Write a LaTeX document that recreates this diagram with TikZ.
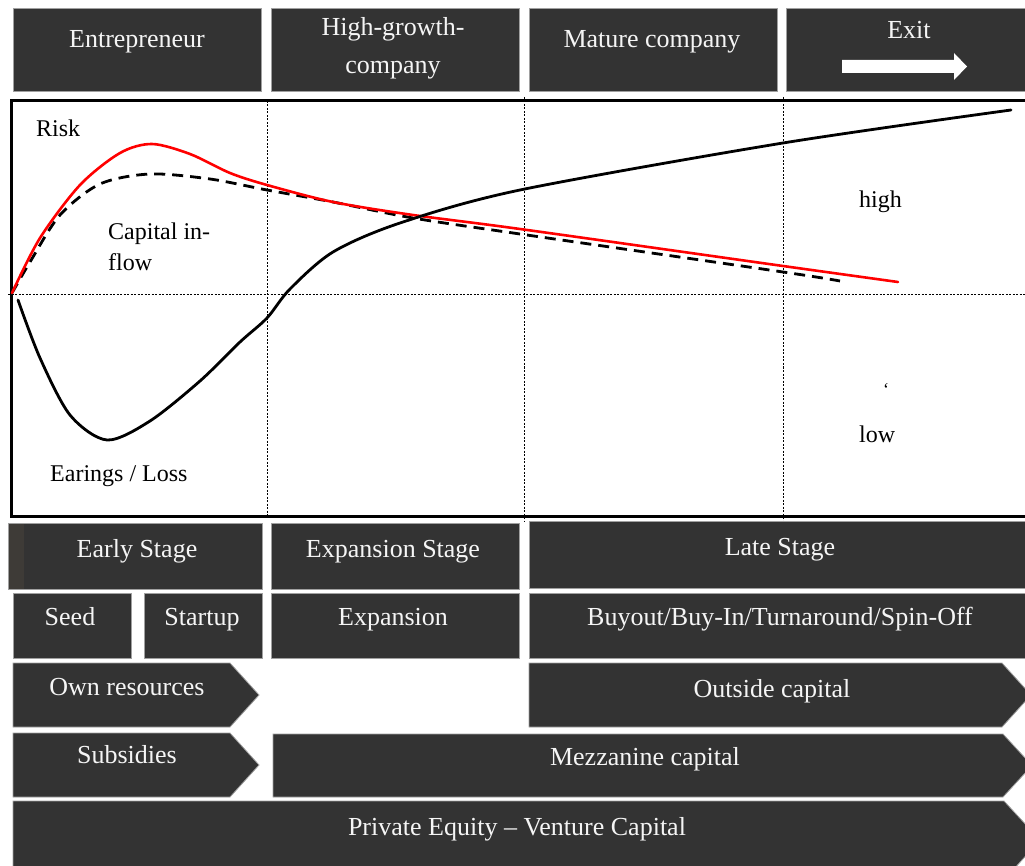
\documentclass[tikz,border=0pt]{standalone}
\usepackage{fontspec}
\setmainfont{Liberation Serif}
\definecolor{boxgray}{RGB}{51,51,51}
\definecolor{edgegray}{RGB}{160,160,160}
\definecolor{boxtext}{RGB}{245,245,245}
\definecolor{stripgray}{RGB}{62,59,55}
\definecolor{riskred}{RGB}{255,0,0}
\begin{document}
\begin{tikzpicture}[x=1pt,y=-1pt,
  box/.style={fill=boxgray,draw=edgegray,line width=0.8pt},
  lbl/.style={text=boxtext,font=\fontsize{26}{30}\selectfont,anchor=base,inner sep=0pt},
  chartlbl/.style={font=\fontsize{24}{28}\selectfont,anchor=base west,inner sep=0pt},
  gridline/.style={line width=1pt,dash pattern=on 2pt off 1.5pt},
  curve/.style={line width=2.8pt,line cap=round}]
\useasboundingbox (0,0) rectangle (1025,866);
\clip (0,0) rectangle (1025,866);

% ---------- top row ----------
\path[box] (13,8) rectangle (261,91);
\path[box] (271,8) rectangle (519,91);
\path[box] (529,8) rectangle (777,91);
\path[box] (786,8) rectangle (1040,91);
\node[lbl] (entre) at (137,48) {Entrepreneur};
\node[lbl] (hg1) at (393,36) {High-growth-};
\node[lbl] (hg2) at (393,74) {company};
\node[lbl] (mature) at (652,48) {Mature company};
\node[lbl] (exit) at (909,39) {Exit};
\fill[white] (842,60) -- (954,60) -- (954,53) -- (967,66.5) -- (954,80) -- (954,73) -- (842,73) -- cycle;

% ---------- chart ----------
\draw[gridline] (267,101) -- (267,516);
\draw[gridline] (524,97) -- (524,522);
\draw[gridline] (783,97) -- (783,522);
\draw[gridline] (8,295) -- (1025,295);
\draw[line width=3pt] (1040,101) -- (11,101) -- (11,516) -- (1040,516);

% capital inflow (dashed)
\draw[curve,dash pattern=on 11pt off 7pt,line cap=butt] plot[smooth,tension=0.5] coordinates {
 (12,293) (30,262) (60,215) (100,184) (150,174) (210,179) (267,190) (333,202) (413,218) (520,234) (783,272) (840,281)};
% risk (red)
\draw[curve,riskred,line width=2.6pt] plot[smooth,tension=0.5] coordinates {
 (12,293) (40,238) (80,185) (120,153) (152,144) (190,154) (230,173) (267,185) (333,202) (413,215) (520,229) (783,266) (898,282)};
% earnings / loss
\draw[curve] plot[smooth,tension=0.5] coordinates {
 (18,300) (40,358) (70,415) (107,440) (150,421) (200,381) (240,342) (267,318) (290,289) (333,252) (400,223) (520,190) (783,143) (1011,110)};

\node[chartlbl] (risk) at (36,137) {Risk};
\node[chartlbl] (cap1) at (108,240) {Capital in-};
\node[chartlbl] (cap2) at (108,271) {flow};
\node[chartlbl] (earn) at (50,481) {Earings / Loss};
\node[chartlbl] (high) at (859,208) {high};
\node[chartlbl] (low) at (859,442) {low};
\node[inner sep=0pt,font=\fontsize{18}{18}\selectfont] (tick) at (886,390) {‘};

% ---------- stage row ----------
\path[box] (8,523) rectangle (262,589);
\fill[stripgray] (8.5,523.5) rectangle (24,588.5);
\path[box] (271,523) rectangle (519,589);
\path[box] (529,521) rectangle (1040,588);
\node[lbl] (early) at (137,557) {Early Stage};
\node[lbl] (expst) at (393,557) {Expansion Stage};
\node[lbl] (late) at (780,555) {Late Stage};

% ---------- second row ----------
\path[box] (13,593) rectangle (131,658);
\path[box] (144,593) rectangle (262,658);
\path[box] (271,593) rectangle (519,658);
\path[box] (529,593) rectangle (1040,658);
\node[lbl] (seed) at (70,625) {Seed};
\node[lbl] (startup) at (202,625) {Startup};
\node[lbl] (expan) at (393,625) {Expansion};
\node[lbl] (buyout) at (780,625) {Buyout/Buy-In/Turnaround/Spin-Off};

% ---------- chevrons ----------
\path[box] (13,663) -- (230,663) -- (259,695) -- (230,727) -- (13,727) -- cycle;
\path[box] (529,663) -- (1002,663) -- (1031,695) -- (1002,727) -- (529,727) -- cycle;
\path[box] (13,733) -- (230,733) -- (259,765) -- (230,797) -- (13,797) -- cycle;
\path[box] (273,734) -- (1003,734) -- (1032,765.5) -- (1003,797) -- (273,797) -- cycle;
\path[box] (13,801) -- (1004,801) -- (1040,840) -- (1004,880) -- (13,880) -- cycle;
\node[lbl] (own) at (127,695) {Own resources};
\node[lbl] (outside) at (772,697) {Outside capital};
\node[lbl] (subs) at (127,763) {Subsidies};
\node[lbl] (mezz) at (645,765) {Mezzanine capital};
\node[lbl] (pe) at (517,835) {Private Equity – Venture Capital};
\end{tikzpicture}
\end{document}
